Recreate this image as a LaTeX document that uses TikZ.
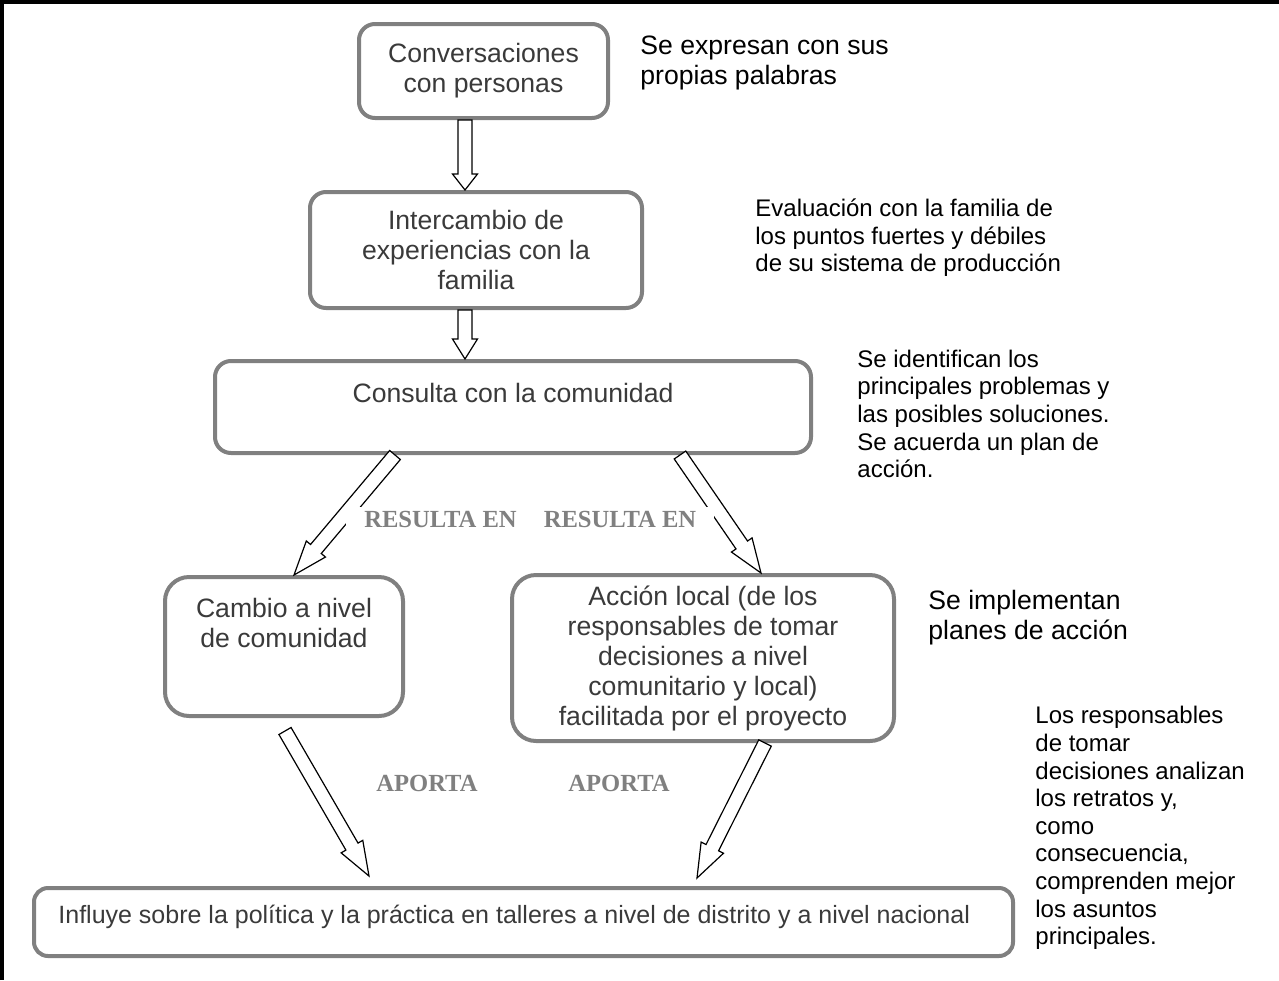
\documentclass[tikz,border=0pt]{standalone}
\usepackage{fontspec}
\setmainfont{Liberation Sans}
\newfontfamily\labelfont{Liberation Serif}
\usetikzlibrary{calc}
\definecolor{framegray}{HTML}{808080}
\definecolor{textgray}{HTML}{3A3A3A}
\tikzset{
  box/.style={draw=framegray, line width=2pt, rounded corners=8pt, fill=white,
    text=textgray, align=center, inner sep=2pt, font=\fontsize{13.3}{15}\selectfont},
  boxtext/.style={text=textgray, align=center, inner sep=0pt, font=\fontsize{13.3}{15}\selectfont},
  sidenote/.style={anchor=west, align=left, inner sep=0pt, font=\fontsize{12}{13.8}\selectfont},
  linklabel/.style={fill=white, text=framegray, inner xsep=9pt, inner ysep=2pt,
    font=\labelfont\bfseries\fontsize{12.3}{14}\selectfont},
  hollow/.style={draw=black, line width=0.6pt, fill=white}
}
\newcommand\hollowarrow[3][8pt]{%
  \coordinate (ah) at ($(#3)!#1!(#2)$);
  \draw[hollow] ($(#2)!3.5pt!90:(#3)$) -- ($(ah)!3.5pt!90:(#3)$) -- ($(ah)!6.25pt!90:(#3)$) -- (#3)
    -- ($(ah)!6.25pt!-90:(#3)$) -- ($(ah)!3.5pt!-90:(#3)$) -- ($(#2)!3.5pt!-90:(#3)$) -- cycle;}

\begin{document}
\begin{tikzpicture}[x=0.5pt, y=-0.5pt]
    \useasboundingbox (0,0) rectangle (1279,980);
    \draw[line width=2pt] (2,980) -- (2,2) -- (1279,2);

    \node[box, minimum width=124.5pt, minimum height=47pt] (conv) at (483.5,71) {Conversaciones\\con personas};
    \node[box, minimum width=166pt, minimum height=58pt] (inter) at (476,250) {Intercambio de\\experiencias con la\\familia};
    \node[box, minimum width=298pt, minimum height=46pt] (cons) at (513,407) {};
    \node[boxtext] at ($(cons.north)+(0,34)$) {Consulta con la comunidad};
    \node[box, minimum width=119pt, minimum height=69.5pt, rounded corners=12pt] (camb) at (284,646.5) {};
    \node[boxtext] at ($(camb.north)+(0,48)$) {Cambio a nivel\\de comunidad};
    \node[box, minimum width=191pt, minimum height=83pt, rounded corners=12pt] (accion) at (703,658)
        {Acción local (de los\\responsables de tomar\\decisiones a nivel\\comunitario y local)\\facilitada por el proyecto};
    \node[box, minimum width=489.5pt, minimum height=34pt, rounded corners=7pt] (infl) at (523.5,922) {};
    \node[boxtext, anchor=west, font=\fontsize{12.5}{14}\selectfont] at ($(infl.west)+(26,-5)$)
        {Influye sobre la política y la práctica en talleres a nivel de distrito y a nivel nacional};

    \node[sidenote, font=\fontsize{13.3}{15}\selectfont] (noteexpr) at (640,63) {Se expresan con sus\\propias palabras};
    \node[sidenote] (noteeval) at (755,238) {Evaluación con la familia de\\los puntos fuertes y débiles\\de su sistema de producción};
    \node[sidenote] (noteprob) at (857,414) {Se identifican los\\principales problemas y\\las posibles soluciones.\\Se acuerda un plan de\\acción.};
    \node[sidenote, font=\fontsize{13.3}{15}\selectfont] (noteimpl) at (928,618) {Se implementan\\planes de acción};
    \node[sidenote] (notedec) at (1035,828) {Los responsables\\de tomar\\decisiones analizan\\los retratos y,\\como\\consecuencia,\\comprenden mejor\\los asuntos\\principales.};

    \coordinate (c1) at ($(conv.south)+(-18.5,0)$);
    \coordinate (c2) at ($(inter.north)+(-11,0)$);
    \coordinate (c3) at ($(inter.south)+(-11,0)$);
    \coordinate (c4) at ($(cons.north)+(-48,0)$);
    \coordinate (c5) at ($(cons.south)+(-118,0)$);
    \coordinate (c6) at ($(camb.north)+(10,0)$);
    \coordinate (c7) at ($(cons.south)+(167,0)$);
    \coordinate (c8) at ($(accion.north)+(58,0)$);
    \coordinate (c9) at (285,731);
    \coordinate (c10) at (369,876);
    \coordinate (c11) at ($(accion.south)+(62,0)$);
    \coordinate (c12) at (697,878);

    \hollowarrow{c1}{c2}
    \hollowarrow[10pt]{c3}{c4}
    \hollowarrow[17pt]{c5}{c6}
    \hollowarrow[17pt]{c7}{c8}
    \hollowarrow[17pt]{c9}{c10}
    \hollowarrow[17pt]{c11}{c12}

    \node[linklabel] (res1) at (440.5,519) {RESULTA EN};
    \node[linklabel] (res2) at (620,519) {RESULTA EN};
    \node[linklabel] (apo1) at (427,783) {APORTA};
    \node[linklabel] (apo2) at (619,783) {APORTA};
\end{tikzpicture}
\end{document}
